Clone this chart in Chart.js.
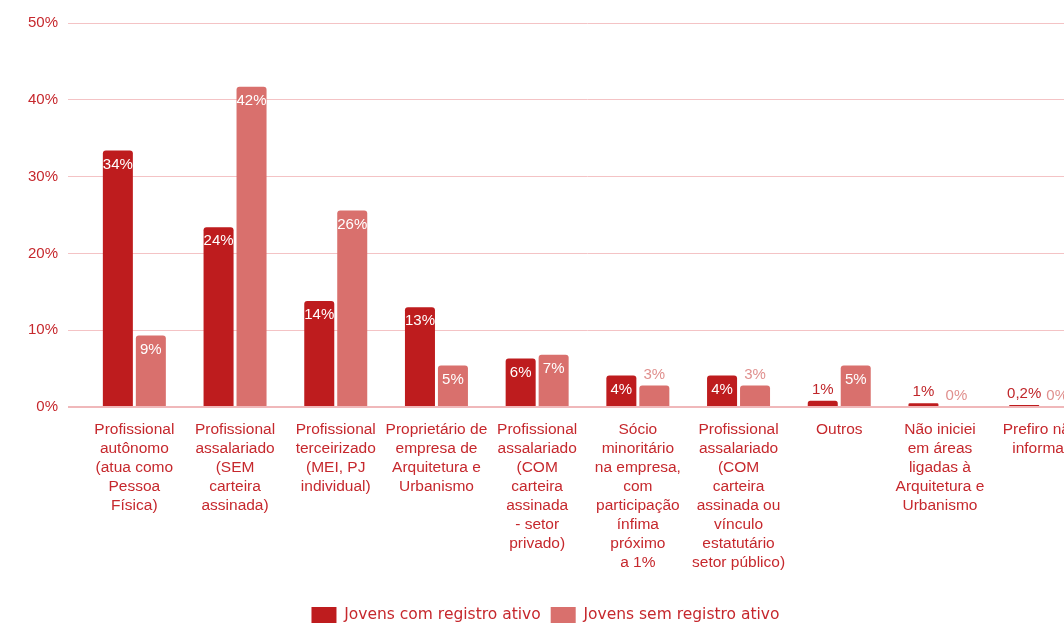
<!DOCTYPE html>
<html>
<head>
<meta charset="utf-8">
<script src="https://cdn.jsdelivr.net/npm/chart.js@4.4.1/dist/chart.umd.min.js"></script>
<style>
  html, body { margin: 0; padding: 0; background: #fff; overflow: hidden; }
  #wrap { position: absolute; left: 0; top: 0; width: 1100px; height: 623px; }
</style>
</head>
<body>
<div id="wrap"><canvas id="chart"></canvas></div>
<script>
const categories = [
    ['Profissional', 'autônomo', '(atua como', 'Pessoa', 'Física)'],
    ['Profissional', 'assalariado', '(SEM', 'carteira', 'assinada)'],
    ['Profissional', 'terceirizado', '(MEI, PJ', 'individual)'],
    ['Proprietário de', 'empresa de', 'Arquitetura e', 'Urbanismo'],
    ['Profissional', 'assalariado', '(COM', 'carteira', 'assinada', '- setor', 'privado)'],
    ['Sócio', 'minoritário', 'na empresa,', 'com', 'participação', 'ínfima', 'próximo', 'a 1%'],
    ['Profissional', 'assalariado', '(COM', 'carteira', 'assinada ou', 'vínculo', 'estatutário', 'setor público)'],
    ['Outros'],
    ['Não iniciei', 'em áreas', 'ligadas à', 'Arquitetura e', 'Urbanismo'],
    ['Prefiro não', 'informar']
];

const comRegistro = [33.4, 23.4, 13.8, 13.0, 6.3, 4.1, 4.1, 0.8, 0.5, 0.25];
const semRegistro = [9.3, 41.7, 25.6, 5.4, 6.8, 2.8, 2.8, 5.4, 0, 0];

const comLabels = ['34%', '24%', '14%', '13%', '6%', '4%', '4%', '1%', '1%', '0,2%'];
const semLabels = ['9%', '42%', '26%', '5%', '7%', '3%', '3%', '5%', '0%', '0%'];

const yTicks = [0, 10, 20, 30, 40, 50];

const textRed = '#C6282D';


const barLabels = {
    id: 'barLabels',
    afterDatasetsDraw(chart) {
        const ctx = chart.ctx;
        const allLabels = [comLabels, semLabels];
        const outColors = ['#C0262A', '#E0908E'];
        ctx.save();
        ctx.font = '15px "Liberation Sans"';
        ctx.textAlign = 'center';
        ctx.textBaseline = 'middle';
        chart.data.datasets.forEach((ds, di) => {
            const meta = chart.getDatasetMeta(di);
            meta.data.forEach((bar, i) => {
                const h = bar.base - bar.y;
                if (h > 25) {
                    ctx.fillStyle = '#ffffff';
                    ctx.fillText(allLabels[di][i], bar.x, bar.y + 14);
                } else {
                    ctx.fillStyle = outColors[di];
                    ctx.fillText(allLabels[di][i], bar.x, bar.y - 11);
                }
            });
        });
        ctx.restore();
    }
};

new Chart(document.getElementById('chart'), {
    type: 'bar',
    data: {
        labels: categories,
        datasets: [
            {
                label: 'Jovens com registro ativo',
                data: comRegistro,
                backgroundColor: '#BE1C1E',
                borderRadius: 3,
                borderSkipped: 'bottom',
                categoryPercentage: 0.655,
                barPercentage: 0.91
            },
            {
                label: 'Jovens sem registro ativo',
                data: semRegistro,
                backgroundColor: '#D9706D',
                borderRadius: 3,
                borderSkipped: 'bottom',
                categoryPercentage: 0.655,
                barPercentage: 0.91
            }
        ]
    },
    options: {
        responsive: true,
        maintainAspectRatio: false,
        animation: false,
        layout: { padding: { left: 0, right: 9, top: 23, bottom: -10 } },
        plugins: {
            legend: {
                position: 'bottom',
                labels: {
                    color: textRed,
                    font: { family: 'DejaVu Sans', size: 15.5 },
                    boxWidth: 25,
                    boxHeight: 16,
                    padding: 10
                }
            },
            tooltip: { enabled: false }
        },
        scales: {
            x: {
                grid: { display: false },
                border: { display: false },
                ticks: {
                    color: textRed,
                    font: { family: 'Liberation Sans', size: 15.5, lineHeight: 1.226 },
                    maxRotation: 0,
                    autoSkip: false,
                    padding: 5
                },
                afterFit: (scale) => { scale.height = 190; }
            },
            y: {
                min: 0,
                max: 50,
                afterBuildTicks: (scale) => { scale.ticks = yTicks.map(v => ({ value: v })); },
                grid: {
                    color: (c) => c.tick && c.tick.value === 0 ? '#F0B8BA' : '#F4C3C5',
                    lineWidth: (c) => c.tick && c.tick.value === 0 ? 2 : 1,
                    tickLength: 16
                },
                border: { display: false },
                ticks: {
                    color: textRed,
                    font: { family: 'Liberation Sans', size: 15 },
                    padding: 10,
                    callback: (v) => v + '%'
                },
                afterFit: (scale) => { scale.width = 84; }
            }
        }
    },
    plugins: [barLabels]
});
</script>
</body>
</html>
